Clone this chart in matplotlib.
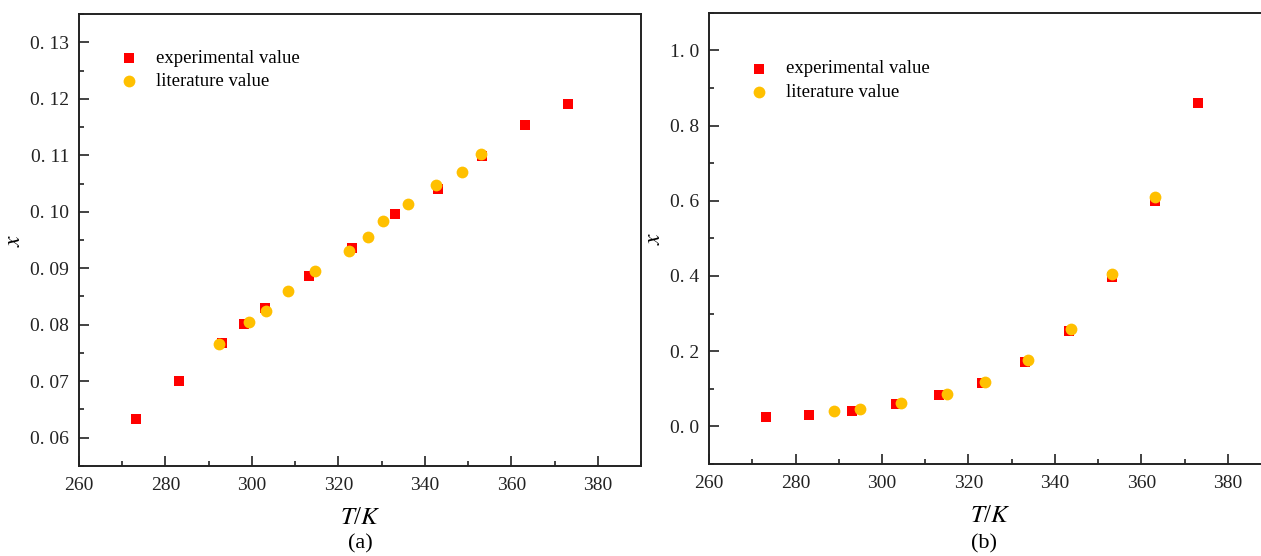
import matplotlib
matplotlib.use('Agg')
import matplotlib.pyplot as plt
from matplotlib.ticker import MultipleLocator, FuncFormatter

plt.rcParams['font.family'] = ['Liberation Serif', 'DejaVu Serif']
plt.rcParams['mathtext.fontset'] = 'stix'

# (a) 溶解度数据
t_exp_a = [273.15, 283.15, 293.15, 298.15, 303.15, 313.15, 323.15, 333.15, 343.15, 353.15, 363.15, 373.15]
x_exp_a = [0.0633, 0.0701, 0.0768, 0.0801, 0.0829, 0.0887, 0.0936, 0.0996, 0.1041, 0.1098, 0.1153, 0.1191]
t_lit_a = [292.5, 299.3, 303.3, 308.4, 314.6, 322.5, 326.8, 330.3, 336.1, 342.6, 348.6, 353.1]
x_lit_a = [0.0766, 0.0805, 0.0825, 0.0859, 0.0896, 0.0930, 0.0956, 0.0984, 0.1014, 0.1047, 0.1070, 0.1102]

# (b)
t_exp_b = [273.15, 283.15, 293.15, 303.15, 313.15, 323.15, 333.15, 343.15, 353.15, 363.15, 373.15]
x_exp_b = [0.024, 0.031, 0.042, 0.060, 0.083, 0.115, 0.171, 0.254, 0.397, 0.598, 0.861]
t_lit_b = [289.0, 295.0, 304.4, 315.0, 323.8, 333.8, 343.8, 353.3, 363.2]
x_lit_b = [0.040, 0.045, 0.063, 0.086, 0.119, 0.177, 0.258, 0.404, 0.611]

RED = '#FF0000'
ORANGE = '#FFC000'


def fmt_cn(v, pos, nd):
    # 小数点后带空格, 如 "0. 13"
    s = '%.*f' % (nd, v)
    return s.replace('.', '. ')


def setup_axis(ax, ylim, ymaj, ymin, nd):
    ax.set_xlim(260, 390)
    ax.set_ylim(*ylim)
    ax.xaxis.set_major_locator(MultipleLocator(20))
    ax.xaxis.set_minor_locator(MultipleLocator(10))
    ax.yaxis.set_major_locator(MultipleLocator(ymaj))
    ax.yaxis.set_minor_locator(MultipleLocator(ymin))
    ax.yaxis.set_major_formatter(FuncFormatter(lambda v, p: fmt_cn(v, p, nd)))
    ax.tick_params(which='both', direction='in', width=1.2, labelsize=14, colors='#222222')
    ax.tick_params(which='major', length=7)
    ax.tick_params(which='minor', length=3.5)
    ax.tick_params(axis='x', pad=8)
    ax.tick_params(axis='y', pad=7)
    for sp in ax.spines.values():
        sp.set_linewidth(1.4)
        sp.set_color('#222222')
    ax.set_xlabel('$T$/$K$', fontsize=18, labelpad=9)
    ax.set_ylabel('$x$', fontsize=17, labelpad=4)


fig = plt.figure(figsize=(12.61, 5.56), dpi=100)
ax1 = fig.add_axes([0.0626, 0.1619, 0.4457, 0.8129])
ax2 = fig.add_axes([0.5623, 0.1655, 0.4457, 0.8117])

for ax, te, xe, tl, xl in [(ax1, t_exp_a, x_exp_a, t_lit_a, x_lit_a),
                           (ax2, t_exp_b, x_exp_b, t_lit_b, x_lit_b)]:
    ax.scatter(te, xe, marker='s', s=50, color=RED, linewidths=0, label='experimental value', zorder=3)
    ax.scatter(tl, xl, marker='o', s=72, color=ORANGE, linewidths=0, label='literature value', zorder=4)

setup_axis(ax1, (0.055, 0.135), 0.01, 0.005, 2)
setup_axis(ax2, (-0.1, 1.1), 0.2, 0.1, 1)

ax1.legend(loc='upper left', bbox_to_anchor=(0.043, 0.938), frameon=False, fontsize=13.5,
           handletextpad=0.4, labelspacing=0.32, borderaxespad=0, scatterpoints=1)
ax2.legend(loc='upper left', bbox_to_anchor=(0.043, 0.911), frameon=False, fontsize=13.5,
           handletextpad=0.4, labelspacing=0.32, borderaxespad=0, scatterpoints=1)

fig.text(0.2855, 0.022, '(a)', ha='center', va='center', fontsize=16)
fig.text(0.780, 0.022, '(b)', ha='center', va='center', fontsize=16)

fig.savefig('out.png', dpi=100)
